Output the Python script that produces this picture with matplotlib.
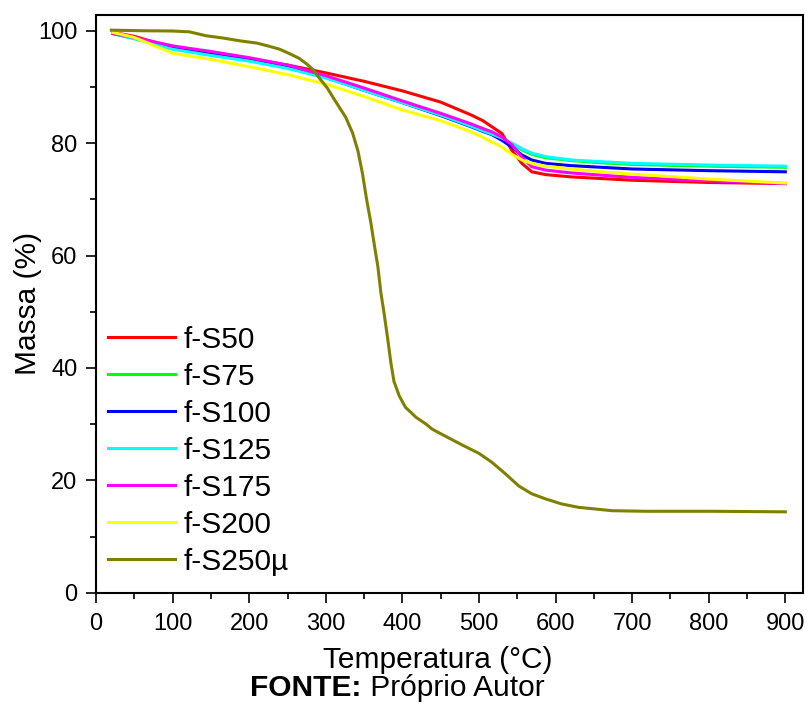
import numpy as np
import matplotlib
matplotlib.use('Agg')
import matplotlib.pyplot as plt
from matplotlib.ticker import MultipleLocator

plt.rcParams['font.family'] = ['Liberation Sans', 'DejaVu Sans']

#-------------------------------------------------------------------------------
# DATA

# common temperature grid for the six f-S samples (°C)
T = [22, 50, 100, 150, 200, 250, 300, 350, 400, 450, 490, 505, 517, 530,
     543, 556, 569, 587, 620, 660, 700, 800, 900]

m_s50 = [99.7, 99.0, 97.0, 96.0, 95.0, 93.9, 92.5, 91.0, 89.3, 87.3, 85.0,
         84.0, 82.9, 81.7, 78.7, 76.4, 74.9, 74.4, 74.0, 73.7, 73.4, 73.0, 72.8]
m_s75 = [99.5, 98.6, 96.8, 95.7, 94.7, 93.4, 91.7, 89.5, 87.3, 85.1, 83.0,
         82.2, 81.6, 80.8, 79.8, 78.8, 78.0, 77.4, 76.9, 76.5, 76.2, 75.9, 75.7]
m_s100 = [99.5, 98.7, 96.9, 95.8, 94.8, 93.5, 91.7, 89.4, 87.2, 84.9, 82.9,
          82.1, 81.5, 80.5, 79.3, 77.9, 77.0, 76.4, 76.0, 75.7, 75.4, 75.1, 74.9]
m_s125 = [99.5, 98.6, 96.7, 95.6, 94.6, 93.3, 91.6, 89.4, 87.2, 85.0, 83.0,
          82.2, 81.6, 80.9, 80.0, 79.0, 78.2, 77.6, 77.0, 76.7, 76.4, 76.1, 75.9]
m_s175 = [99.5, 98.8, 97.3, 96.3, 95.2, 93.9, 92.0, 89.8, 87.5, 85.3, 83.4,
          82.6, 82.0, 81.1, 79.7, 77.5, 75.8, 75.2, 74.7, 74.3, 73.9, 73.3, 72.8]
m_s200 = [99.7, 98.8, 96.0, 94.9, 93.6, 92.2, 90.5, 88.3, 85.9, 84.0, 82.0,
          81.0, 80.2, 79.3, 78.0, 77.0, 76.4, 75.9, 75.4, 74.9, 74.5, 73.6, 72.9]

# f-S250µ has its own temperature points
T_250 = [20, 60, 100, 122, 144, 166, 188, 210, 227, 240, 253, 265, 275, 284,
         292, 302, 311, 326, 335, 342, 348, 353, 359, 363, 368, 372, 376, 381,
         385, 389, 396, 404, 418, 431, 439, 457, 478, 500, 517, 535, 552, 569,
         587, 608, 630, 652, 674, 717, 804, 900]
m_s250 = [100.1, 100.0, 99.95, 99.8, 99.1, 98.7, 98.2, 97.8, 97.2, 96.7, 95.9,
          95.1, 94.1, 93.0, 91.5, 89.8, 87.8, 84.6, 81.8, 78.6, 74.5, 70.2,
          65.7, 62.2, 58.0, 53.3, 49.8, 45.0, 40.9, 37.6, 35.0, 33.0, 31.2,
          30.0, 29.1, 27.8, 26.3, 24.8, 23.2, 21.1, 19.0, 17.6, 16.7, 15.8,
          15.2, 14.9, 14.6, 14.5, 14.5, 14.4]

labels = ['f-S50', 'f-S75', 'f-S100', 'f-S125', 'f-S175', 'f-S200', 'f-S250µ']
colors = ['#ff0000', '#00ff00', '#0000ff', '#00ffff', '#ff00ff', '#ffff00',
          '#808000']

#-------------------------------------------------------------------------------
# PLOT

fig = plt.figure(figsize=(8.11, 7.04), dpi=100)
ax = fig.add_axes([0.1184, 0.1580, 0.8717, 0.8207])

series = [m_s50, m_s75, m_s100, m_s125, m_s175, m_s200]
for m, lab, c in zip(series, labels[:-1], colors[:-1]):
    ax.plot(T, m, color=c, lw=2.2, label=lab, solid_joinstyle='round')
ax.plot(T_250, m_s250, color=colors[-1], lw=2.2, label=labels[-1],
        solid_joinstyle='round')

ax.set_xlim(0, 923)
ax.set_ylim(0, 102.8)
ax.xaxis.set_major_locator(MultipleLocator(100))
ax.xaxis.set_minor_locator(MultipleLocator(50))
ax.yaxis.set_major_locator(MultipleLocator(20))
ax.yaxis.set_minor_locator(MultipleLocator(10))
ax.tick_params(which='major', direction='out', length=7.5, width=1.2,
               labelsize=17, pad=6, top=False, right=False)
ax.tick_params(axis='x', which='major', pad=7)
ax.tick_params(which='minor', direction='out', length=4, width=1.2,
               top=False, right=False)
for s in ax.spines.values():
    s.set_linewidth(1.5)

ax.set_xlabel('Temperatura (°C)', fontsize=21.5)
ax.xaxis.set_label_coords(0.484, -0.117, transform=ax.transAxes)
ax.xaxis.label.set_va('center')
ax.set_ylabel('Massa (%)', fontsize=21.5, labelpad=-3)

ax.legend(loc='lower left', bbox_to_anchor=(0.0, 0.009), frameon=False,
          fontsize=21.5, handlelength=2.26, handletextpad=0.27,
          labelspacing=0.30, borderaxespad=0.0, borderpad=0.4)

# footer: bold "FONTE:" followed by regular text
fig.text(0.446, 0.011, 'FONTE:', ha='right', va='baseline', fontsize=21.5,
         fontweight='bold')
fig.text(0.446, 0.011, ' Próprio Autor', ha='left', va='baseline',
         fontsize=21.5)

fig.savefig('out.png', dpi=100)
